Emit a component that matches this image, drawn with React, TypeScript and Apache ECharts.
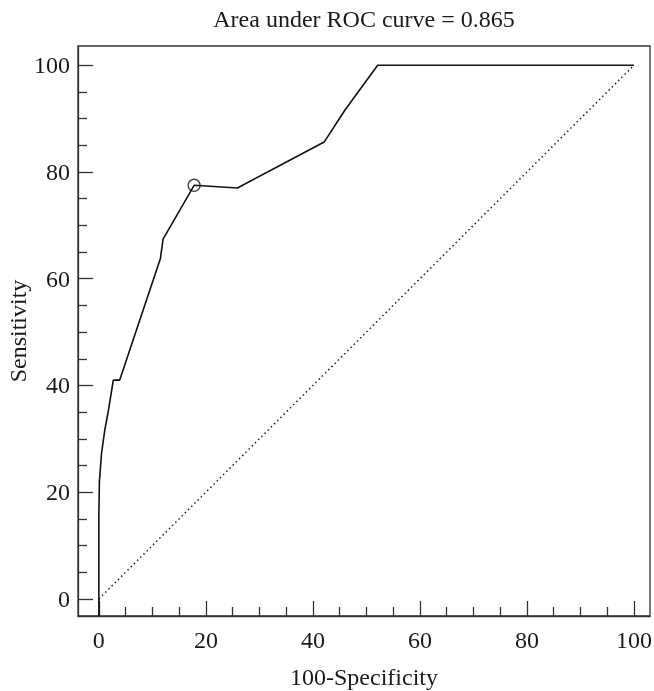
import React, { useEffect, useRef } from "react";
import * as echarts from "echarts";

const rocX = [0, 0, 0.1, 0.5, 1.1, 1.8, 2.7, 3.9, 11.5, 12.0, 17.8, 25.9, 34.0, 42.1, 46.0, 52.1, 100];
const rocY = [-3.2, 16, 22, 27.3, 31.6, 35.4, 41.0, 41.0, 63.8, 67.4, 77.5, 77.0, 81.3, 85.6, 91.6, 100, 100];
const diagX = [0, 100];
const diagY = [0, 100];
const cutoffPoint = [17.8, 77.5];
const majorTicks = [0, 20, 40, 60, 80, 100];
const minorTicks = [5, 10, 15, 25, 30, 35, 45, 50, 55, 65, 70, 75, 85, 90, 95];
const titleText = "Area under ROC curve = 0.865";
const xName = "100-Specificity";
const yName = "Sensitivity";

const FONT = "'Liberation Serif', 'Times New Roman', serif";
const INK = "#1a1a1a";
const FS = 24;

export default function App() {
  const ref = useRef<HTMLDivElement>(null);
  useEffect(() => {
    if (!ref.current) return;
    const chart = echarts.init(ref.current, undefined, { renderer: "svg" });
    const xRange = { min: -3.9, max: 103 };
    const yRange = { min: -3.2, max: 103.6 };
    const majorAxis = (name: string, isX: boolean) => ({
      type: "value",
      ...(isX ? xRange : yRange),
      position: isX ? "bottom" : "left",
      name,
      nameLocation: "middle",
      nameGap: isX ? 49 : 48,
      nameMoveOverlap: false,
      nameTextStyle: { fontFamily: FONT, fontSize: FS, color: INK },
      axisLine: { show: true, onZero: false, lineStyle: { color: "#333", width: 1.3 } },
      axisTick: { show: true, inside: true, length: 15, customValues: majorTicks, lineStyle: { color: "#333", width: 1.3 } },
      axisLabel: { show: true, customValues: majorTicks, fontFamily: FONT, fontSize: FS, color: INK, margin: isX ? 12 : 8 },
      splitLine: { show: false },
    });
    const minorAxis = (isX: boolean) => ({
      type: "value",
      ...(isX ? xRange : yRange),
      position: isX ? "bottom" : "left",
      axisLine: { show: false, onZero: false },
      axisTick: { show: true, inside: true, length: 9, customValues: minorTicks, lineStyle: { color: "#333", width: 1.3 } },
      axisLabel: { show: false },
      splitLine: { show: false },
    });
    chart.setOption({
      animation: false,
      title: {
        text: titleText,
        left: 364,
        top: 7,
        textAlign: "center",
        padding: 0,
        textStyle: { fontFamily: FONT, fontSize: FS, fontWeight: "normal", color: INK },
      },
      grid: {
        left: 78, top: 46, right: 4, bottom: 75,
        containLabel: false, outerBoundsMode: "none",
        show: true, borderColor: "#333", borderWidth: 1.3, backgroundColor: "transparent",
      },
      xAxis: [majorAxis(xName, true), minorAxis(true)],
      yAxis: [majorAxis(yName, false), minorAxis(false)],
      series: [
        {
          type: "line",
          xAxisIndex: 0,
          yAxisIndex: 0,
          data: diagX.map((x, i) => [x, diagY[i]]),
          symbol: "none",
          lineStyle: { color: "#222", width: 1.5, type: [1.5, 3] },
        },
        {
          type: "line",
          xAxisIndex: 0,
          yAxisIndex: 0,
          data: rocX.map((x, i) => [x, rocY[i]]),
          symbol: "none",
          clip: true,
          lineStyle: { color: "#111", width: 1.6 },
        },
        {
          type: "scatter",
          xAxisIndex: 0,
          yAxisIndex: 0,
          data: [cutoffPoint],
          symbol: "circle",
          symbolSize: 12,
          itemStyle: { color: "#fff", borderColor: "#111", borderWidth: 1.3 },
        },
      ],
    });
    return () => chart.dispose();
  }, []);
  return <div ref={ref} style={{ position: "fixed", left: 0, top: 0, width: 654, height: 691 }} />;
}
